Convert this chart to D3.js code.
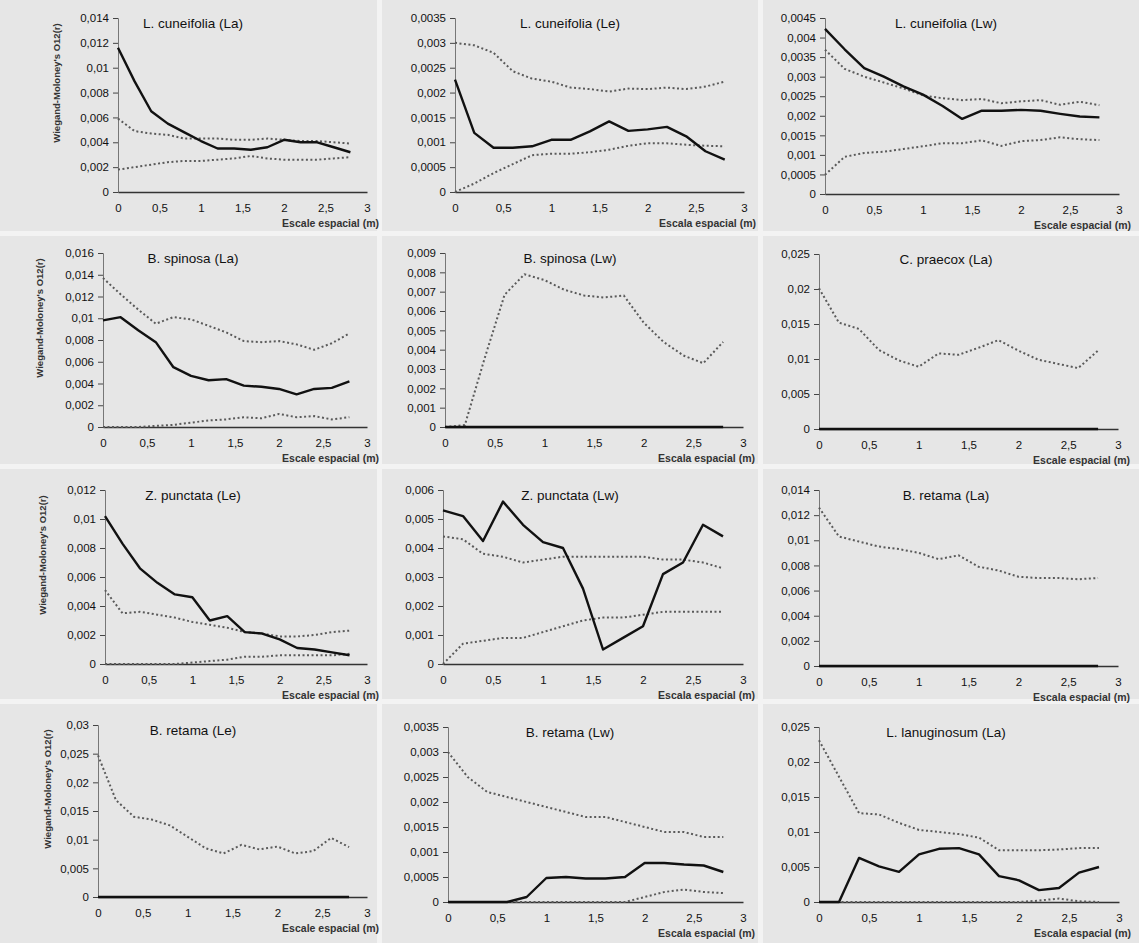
<!DOCTYPE html>
<html>
<head>
<meta charset="utf-8">
<script src="https://cdn.jsdelivr.net/npm/d3@7"></script>
<style>
  body { margin: 0; background: #f3f3f3; }
  svg { display: block; font-family: "Liberation Sans", Arial, sans-serif; }
</style>
</head>
<body>
<div id="chart"></div>
<script>
// distance classes (m)
var distances = [0, 0.2, 0.4, 0.6, 0.8, 1.0, 1.2, 1.4, 1.6, 1.8, 2.0, 2.2, 2.4, 2.6, 2.8];

var titles = [
  "L. cuneifolia (La)", "L. cuneifolia (Le)", "L. cuneifolia (Lw)",
  "B. spinosa (La)", "B. spinosa (Lw)", "C. praecox (La)",
  "Z. punctata (Le)", "Z. punctata (Lw)", "B. retama (La)",
  "B. retama (Le)", "B. retama (Lw)", "L. lanuginosum (La)"
];

var xTitles = [
  "Escale espacial (m)", "Escala espacial (m)", "Escale espacial (m)",
  "Escale espacial (m)", "Escala espacial (m)", "Escale espacial (m)",
  "Escale espacial (m)", "Escala espacial (m)", "Escala espacial (m)",
  "Escale espacial (m)", "Escala espacial (m)", "Escala espacial (m)"
];

// y axis max and tick step of each panel
var yMax  = [0.014, 0.0035, 0.0045, 0.016, 0.009, 0.025, 0.012, 0.006, 0.014, 0.03, 0.0035, 0.025];
var yStep = [0.002, 0.0005, 0.0005, 0.002, 0.001, 0.005, 0.002, 0.001, 0.002, 0.005, 0.0005, 0.005];

var xTicks = [0, 0.5, 1, 1.5, 2, 2.5, 3];

// observed O12(r)
var observed = [
  [0.0116, 0.0089, 0.0065, 0.0055, 0.0048, 0.0041, 0.0035, 0.0035, 0.0034, 0.0036, 0.0042, 0.0040, 0.0040, 0.0036, 0.0032],
  [0.00226, 0.00119, 0.00089, 0.00089, 0.00092, 0.00105, 0.00105, 0.00122, 0.00142, 0.00123, 0.00126, 0.00131, 0.00112, 0.00082, 0.00065],
  [0.00422, 0.0037, 0.00322, 0.0030, 0.00275, 0.00254, 0.00225, 0.00192, 0.00213, 0.00213, 0.00215, 0.00213, 0.00205, 0.00198, 0.00196],
  [0.0098, 0.0101, 0.0089, 0.0078, 0.0055, 0.0047, 0.0043, 0.0044, 0.0038, 0.0037, 0.0035, 0.0030, 0.0035, 0.0036, 0.0042],
  [0, 0, 0, 0, 0, 0, 0, 0, 0, 0, 0, 0, 0, 0, 0],
  [0, 0, 0, 0, 0, 0, 0, 0, 0, 0, 0, 0, 0, 0, 0],
  [0.0102, 0.0083, 0.0066, 0.0056, 0.0048, 0.0046, 0.0030, 0.0033, 0.0022, 0.0021, 0.0017, 0.0011, 0.0010, 0.0008, 0.0006],
  [0.0053, 0.0051, 0.00424, 0.0056, 0.0048, 0.0042, 0.0040, 0.0026, 0.0005, 0.0009, 0.0013, 0.0031, 0.0035, 0.0048, 0.0044],
  [0, 0, 0, 0, 0, 0, 0, 0, 0, 0, 0, 0, 0, 0, 0],
  [0, 0, 0, 0, 0, 0, 0, 0, 0, 0, 0, 0, 0, 0, 0],
  [0, 0, 0, 0, 0.0001, 0.00048, 0.0005, 0.00047, 0.00047, 0.0005, 0.00078, 0.00078, 0.00075, 0.00073, 0.0006],
  [0, 0, 0.0063, 0.0051, 0.0043, 0.0068, 0.0076, 0.0077, 0.0068, 0.0037, 0.0031, 0.0017, 0.0020, 0.0042, 0.0050]
];

// upper envelope
var upper = [
  [0.0059, 0.0049, 0.0047, 0.0046, 0.0043, 0.0043, 0.0043, 0.0042, 0.0042, 0.0043, 0.0042, 0.0041, 0.0041, 0.0040, 0.0039],
  [0.0030, 0.00295, 0.0028, 0.00243, 0.00228, 0.00222, 0.0021, 0.00207, 0.00202, 0.00208, 0.00207, 0.0021, 0.00207, 0.00212, 0.00222],
  [0.00369, 0.0032, 0.0030, 0.00285, 0.0027, 0.00252, 0.00245, 0.0024, 0.00243, 0.00232, 0.00237, 0.0024, 0.00228, 0.00236, 0.00227],
  [0.0137, 0.0122, 0.0108, 0.0095, 0.0101, 0.0099, 0.0093, 0.0087, 0.0079, 0.0078, 0.0079, 0.0076, 0.0071, 0.0077, 0.0086],
  [0, 0.0001, 0.00357, 0.00684, 0.0079, 0.0076, 0.0071, 0.0068, 0.0067, 0.0068, 0.0054, 0.0044, 0.0037, 0.0033, 0.0044],
  [0.0201, 0.0152, 0.0143, 0.0113, 0.0098, 0.0089, 0.0108, 0.0106, 0.0116, 0.0127, 0.0112, 0.0099, 0.0093, 0.0087, 0.0112],
  [0.0051, 0.0035, 0.0036, 0.0034, 0.0032, 0.0029, 0.0027, 0.0025, 0.0022, 0.0021, 0.0019, 0.0019, 0.0020, 0.0022, 0.0023],
  [0.0044, 0.0043, 0.0038, 0.0037, 0.0035, 0.0036, 0.0037, 0.0037, 0.0037, 0.0037, 0.0037, 0.0036, 0.0036, 0.0035, 0.0033],
  [0.0126, 0.0103, 0.0099, 0.0095, 0.0093, 0.0090, 0.0085, 0.0088, 0.0079, 0.0076, 0.0071, 0.0070, 0.0070, 0.0069, 0.0070],
  [0.0247, 0.0169, 0.0140, 0.0135, 0.0125, 0.0105, 0.0085, 0.0076, 0.0091, 0.0083, 0.0088, 0.0076, 0.0080, 0.0103, 0.0087],
  [0.0030, 0.0025, 0.0022, 0.0021, 0.0020, 0.0019, 0.0018, 0.0017, 0.0017, 0.0016, 0.0015, 0.0014, 0.0014, 0.0013, 0.0013],
  [0.0231, 0.0179, 0.0127, 0.0125, 0.0113, 0.0103, 0.0100, 0.0097, 0.0092, 0.0074, 0.0074, 0.0074, 0.0075, 0.0077, 0.0077]
];

// lower envelope
var lower = [
  [0.0018, 0.0020, 0.0022, 0.0024, 0.0025, 0.0025, 0.0026, 0.0027, 0.0029, 0.0027, 0.0026, 0.0026, 0.0026, 0.0027, 0.0028],
  [0, 0.00017, 0.00038, 0.00056, 0.00074, 0.00077, 0.00077, 0.0008, 0.00085, 0.00093, 0.00098, 0.00098, 0.00095, 0.00093, 0.00092],
  [0.00049, 0.00095, 0.00105, 0.00108, 0.00115, 0.00122, 0.0013, 0.0013, 0.00137, 0.00123, 0.00135, 0.00138, 0.00145, 0.0014, 0.00138],
  [0, 0, 0, 0.0001, 0.0002, 0.0004, 0.0006, 0.0007, 0.0009, 0.0008, 0.0012, 0.0009, 0.0010, 0.0007, 0.0009],
  [0, 0, 0, 0, 0, 0, 0, 0, 0, 0, 0, 0, 0, 0, 0],
  [0, 0, 0, 0, 0, 0, 0, 0, 0, 0, 0, 0, 0, 0, 0],
  [0, 0, 0, 0, 0, 0.0001, 0.0002, 0.0003, 0.0005, 0.0005, 0.0006, 0.0006, 0.0006, 0.0006, 0.0007],
  [0, 0.0007, 0.0008, 0.0009, 0.0009, 0.0011, 0.0013, 0.0015, 0.0016, 0.0016, 0.0017, 0.0018, 0.0018, 0.0018, 0.0018],
  [0, 0, 0, 0, 0, 0, 0, 0, 0, 0, 0, 0, 0, 0, 0],
  [0, 0, 0, 0, 0, 0, 0, 0, 0, 0, 0, 0, 0, 0, 0],
  [0, 0, 0, 0, 0, 0, 0, 0, 0, 0, 0.0001, 0.0002, 0.00025, 0.0002, 0.00018],
  [0, 0, 0, 0, 0, 0, 0, 0, 0, 0, 0, 0.0002, 0.0005, 0.0001, 0]
];

// plot frames: left (x=0), right (x=3), top (y max), bottom (y=0), y title offset
var frames = [
  {l: 118, r: 367, t: 18, b: 192, yl: 61},
  {l: 455, r: 744, t: 18, b: 192},
  {l: 825, r: 1119, t: 18, b: 194},
  {l: 103, r: 367, t: 253, b: 427, yl: 63},
  {l: 445, r: 743, t: 253, b: 427},
  {l: 819, r: 1118, t: 254, b: 429},
  {l: 105, r: 367, t: 490, b: 664, yl: 62},
  {l: 443, r: 743, t: 490, b: 664},
  {l: 819, r: 1118, t: 490, b: 666},
  {l: 98, r: 367, t: 725, b: 897, yl: 50},
  {l: 448, r: 743, t: 727, b: 902},
  {l: 819, r: 1119, t: 727, b: 902}
];
var titleX = [193, 570, 946];
var cellX = [[0, 377], [382, 758], [763, 1139]];
var cellY = [[0, 231], [236, 464], [469, 699], [704, 943]];

var width = 1139;
var height = 943;

var fmt = d3.formatLocale({decimal: ",", thousands: ".", grouping: [3], currency: ["", ""]}).format("");

var svg = d3.select("#chart")
  .append("svg")
    .attr("width", width)
    .attr("height", height);

// cell backgrounds (scan look)
for (var r = 0; r < 4; r++) {
  for (var c = 0; c < 3; c++) {
    svg.append("rect")
      .attr("x", cellX[c][0])
      .attr("y", cellY[r][0])
      .attr("width", cellX[c][1] - cellX[c][0])
      .attr("height", cellY[r][1] - cellY[r][0])
      .attr("fill", "#e6e6e6");
  }
}

function drawPanel(i) {
  var f = frames[i];
  var g = svg.append("g").attr("class", "panel");

  var x = d3.scaleLinear().domain([0, 3]).range([f.l, f.r]);
  var y = d3.scaleLinear().domain([0, yMax[i]]).range([f.b, f.t]);

  var n = Math.round(yMax[i] / yStep[i]);
  var yTicks = d3.range(n + 1).map(function (k) { return +(k * yStep[i]).toFixed(6); });

  // y axis
  var yAxis = d3.axisLeft(y)
    .tickValues(yTicks)
    .tickFormat(fmt)
    .tickSize(5)
    .tickPadding(4);
  var ya = g.append("g")
    .attr("transform", "translate(" + f.l + ",0)")
    .call(yAxis);
  ya.select(".domain").attr("stroke", "#777").attr("stroke-width", 1);
  ya.selectAll(".tick line").attr("stroke", "#444");
  ya.selectAll(".tick text")
    .attr("fill", "#111")
    .style("font-size", "11.5px")
    .style("font-family", "'Liberation Sans', Arial, sans-serif");

  // x axis
  var xAxis = d3.axisBottom(x)
    .tickValues(xTicks)
    .tickFormat(fmt)
    .tickSize(0)
    .tickPadding(12);
  var xa = g.append("g")
    .attr("transform", "translate(0," + f.b + ")")
    .call(xAxis);
  xa.select(".domain").attr("stroke", "#333").attr("stroke-width", 1.5);
  xa.selectAll(".tick text")
    .attr("fill", "#111")
    .style("font-size", "11.5px")
    .style("font-family", "'Liberation Sans', Arial, sans-serif");

  // x axis title
  g.append("text")
    .attr("x", f.r + 12)
    .attr("y", f.b + 35)
    .attr("text-anchor", "end")
    .style("font-size", "10.5px")
    .style("font-weight", "bold")
    .attr("fill", "#333")
    .text(xTitles[i]);

  // y axis title, first column only
  if (f.yl) {
    var cx = f.l - f.yl;
    var cy = (f.t + f.b) / 2 - 22;
    g.append("text")
      .attr("transform", "translate(" + cx + "," + cy + ") rotate(-90)")
      .attr("text-anchor", "middle")
      .attr("dy", "0.35em")
      .style("font-size", "9.5px")
      .style("font-weight", "bold")
      .attr("fill", "#333")
      .text("Wiegand-Moloney's O12(r)");
  }

  // panel title
  g.append("text")
    .attr("x", titleX[i % 3])
    .attr("y", f.t + 10)
    .attr("text-anchor", "middle")
    .style("font-size", "13.5px")
    .attr("fill", "#111")
    .text(titles[i]);

  var line = d3.line()
    .x(function (d, k) { return x(distances[k]); })
    .y(function (d) { return y(d); });

  [upper[i], lower[i]].forEach(function (s) {
    g.append("path")
      .datum(s)
      .attr("fill", "none")
      .attr("stroke", "#5a5a5a")
      .attr("stroke-width", 2)
      .attr("stroke-dasharray", "2 2.5")
      .attr("d", line);
  });

  g.append("path")
    .datum(observed[i])
    .attr("fill", "none")
    .attr("stroke", "#111")
    .attr("stroke-width", 2.4)
    .attr("stroke-linejoin", "round")
    .attr("d", line);
}

for (var i = 0; i < titles.length; i++) {
  drawPanel(i);
}
</script>
</body>
</html>
